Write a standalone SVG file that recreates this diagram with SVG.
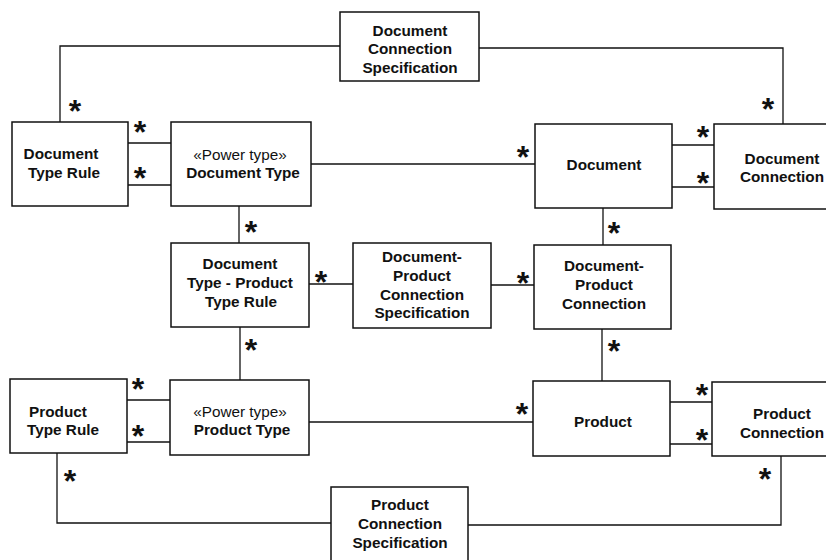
<svg xmlns="http://www.w3.org/2000/svg" width="826" height="560" viewBox="0 0 826 560">
<style>
.box{fill:#fff;stroke:#111;stroke-width:1.5}
.ln{fill:none;stroke:#111;stroke-width:1.3}
.t{font-family:"Liberation Sans",Arial,sans-serif;font-size:15.3px;font-weight:bold;fill:#111;text-anchor:middle}
.r{font-weight:normal}
.s{font-family:"Liberation Sans",Arial,sans-serif;font-size:32px;font-weight:bold;fill:#111;text-anchor:middle}
</style>
<rect width="826" height="560" fill="#fff"/>
<g id="connectors">
<polyline class="ln" points="60,122 60,46 340,46"/>
<polyline class="ln" points="479,48 783,48 783,124"/>
<line class="ln" x1="128" y1="143" x2="171" y2="143"/>
<line class="ln" x1="128" y1="185" x2="171" y2="185"/>
<line class="ln" x1="311" y1="164" x2="535" y2="164"/>
<line class="ln" x1="672" y1="145" x2="714" y2="145"/>
<line class="ln" x1="672" y1="187" x2="714" y2="187"/>
<line class="ln" x1="239" y1="206" x2="239" y2="243"/>
<line class="ln" x1="603" y1="208" x2="603" y2="245"/>
<line class="ln" x1="309" y1="284" x2="353" y2="284"/>
<line class="ln" x1="491" y1="285" x2="534" y2="285"/>
<line class="ln" x1="240" y1="327" x2="240" y2="380"/>
<line class="ln" x1="602" y1="329" x2="602" y2="381"/>
<line class="ln" x1="127" y1="400" x2="170" y2="400"/>
<line class="ln" x1="127" y1="442" x2="170" y2="442"/>
<line class="ln" x1="309" y1="422" x2="533" y2="422"/>
<line class="ln" x1="670" y1="402" x2="712" y2="402"/>
<line class="ln" x1="670" y1="444" x2="712" y2="444"/>
<polyline class="ln" points="57,453 57,523 331,523"/>
<polyline class="ln" points="468,525 781,525 781,456"/>
<g id="multiplicities">
<text class="s" x="75" y="122">*</text>
<text class="s" x="140" y="143">*</text>
<text class="s" x="140" y="189">*</text>
<text class="s" x="523" y="168">*</text>
<text class="s" x="703" y="148">*</text>
<text class="s" x="703" y="194">*</text>
<text class="s" x="768" y="120">*</text>
<text class="s" x="251" y="243">*</text>
<text class="s" x="614" y="244">*</text>
<text class="s" x="321" y="293">*</text>
<text class="s" x="523" y="294">*</text>
<text class="s" x="251" y="361">*</text>
<text class="s" x="614" y="362">*</text>
<text class="s" x="138" y="400">*</text>
<text class="s" x="138" y="447">*</text>
<text class="s" x="522" y="425">*</text>
<text class="s" x="702" y="406">*</text>
<text class="s" x="702" y="451">*</text>
<text class="s" x="70" y="492">*</text>
<text class="s" x="765" y="490">*</text>
</g>
</g>
<g id="doc-conn-spec">
<rect class="box" x="340" y="12" width="139" height="69"/>
<text class="t" x="410" y="35.5">Document</text>
<text class="t" x="410" y="54">Connection</text>
<text class="t" x="410" y="72.5">Specification</text>
</g>
<g id="doc-type-rule">
<rect class="box" x="12" y="122" width="116" height="84"/>
<text class="t" x="61" y="159">Document</text>
<text class="t" x="64" y="178">Type Rule</text>
</g>
<g id="doc-type">
<rect class="box" x="171" y="122" width="140" height="84"/>
<text class="t r" x="240" y="160">«Power type»</text>
<text class="t" x="243" y="178">Document Type</text>
</g>
<g id="document">
<rect class="box" x="535" y="124" width="137" height="84"/>
<text class="t" x="604" y="170">Document</text>
</g>
<g id="doc-connection">
<rect class="box" x="714" y="124" width="138" height="85"/>
<text class="t" x="782" y="164">Document</text>
<text class="t" x="782" y="182">Connection</text>
</g>
<g id="dt-pt-rule">
<rect class="box" x="171" y="243" width="138" height="84"/>
<text class="t" x="240" y="269">Document</text>
<text class="t" x="240" y="288">Type - Product</text>
<text class="t" x="241" y="307">Type Rule</text>
</g>
<g id="dp-conn-spec">
<rect class="box" x="353" y="243" width="138" height="85"/>
<text class="t" x="422" y="262">Document-</text>
<text class="t" x="422" y="281">Product</text>
<text class="t" x="422" y="299.5">Connection</text>
<text class="t" x="422" y="318">Specification</text>
</g>
<g id="dp-connection">
<rect class="box" x="534" y="245" width="137" height="84"/>
<text class="t" x="604" y="271">Document-</text>
<text class="t" x="604" y="290">Product</text>
<text class="t" x="604" y="309">Connection</text>
</g>
<g id="prod-type-rule">
<rect class="box" x="10" y="379" width="117" height="74"/>
<text class="t" x="58" y="417">Product</text>
<text class="t" x="63" y="435">Type Rule</text>
</g>
<g id="prod-type">
<rect class="box" x="170" y="380" width="139" height="75"/>
<text class="t r" x="240" y="417">«Power type»</text>
<text class="t" x="242" y="435">Product Type</text>
</g>
<g id="product">
<rect class="box" x="533" y="381" width="137" height="75"/>
<text class="t" x="603" y="427">Product</text>
</g>
<g id="prod-connection">
<rect class="box" x="712" y="382" width="138" height="74"/>
<text class="t" x="782" y="419">Product</text>
<text class="t" x="782" y="438">Connection</text>
</g>
<g id="prod-conn-spec">
<rect class="box" x="331" y="487" width="137" height="90"/>
<text class="t" x="400" y="510">Product</text>
<text class="t" x="400" y="529">Connection</text>
<text class="t" x="400" y="547.5">Specification</text>
</g>
</svg>
